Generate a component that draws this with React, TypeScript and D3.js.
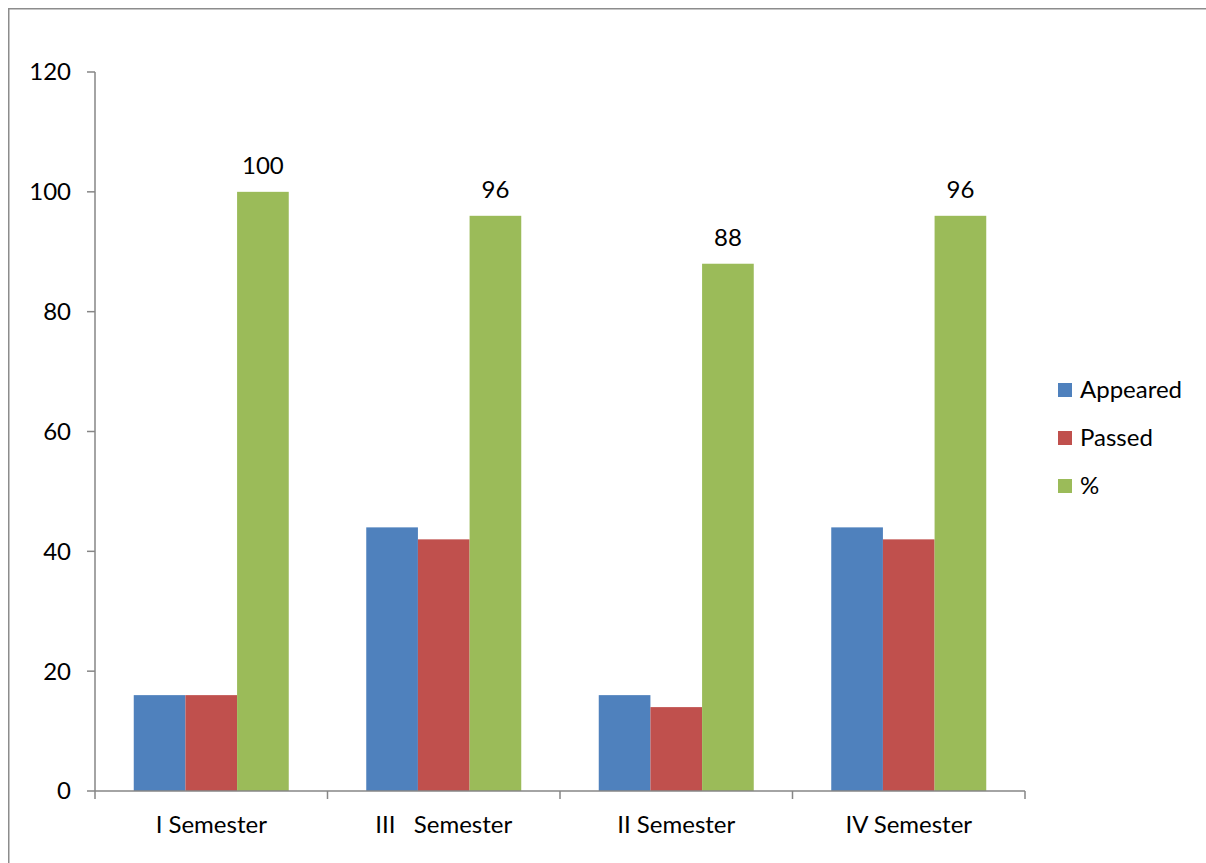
import React from "react";
import * as d3 from "d3";

const categories = ["I Semester", "III   Semester", "II Semester", "IV Semester"];
const seriesNames = ["Appeared", "Passed", "%"];
const appeared = [16, 44, 16, 44];
const passed = [16, 42, 14, 42];
const percent = [100, 96, 88, 96];
const yTicks = [0, 20, 40, 60, 80, 100, 120];
const colors = ["#4F81BD", "#C0504D", "#9BBB59"];

export default function App() {
  const W = 1198;
  const H = 855;
  const left = 87;
  const right = 1017;
  const top = 64;
  const bottom = 783;
  const font = "Lato, 'Open Sans', sans-serif";
  const fs = 24;
  const series = [appeared, passed, percent];

  const x = d3.scaleBand<string>().domain(categories).range([left, right]).paddingInner(0).paddingOuter(0);
  const y = d3.scaleLinear().domain([0, 120]).range([bottom, top]);
  const bw = x.bandwidth() / 4.5;
  const gap = bw * 0.75;

  const axisColor = "#868686";

  return (
    <svg width={W} height={H} style={{ display: "block", position: "fixed", left: 8, top: 8 }}>
      <rect x={0.75} y={0.75} width={W + 20} height={H + 20} fill="white" stroke="#8c8c8c" strokeWidth={1.5} />
      {/* y axis */}
      <line x1={left} x2={left} y1={top} y2={bottom} stroke={axisColor} strokeWidth={1.5} />
      {yTicks.map((t) => (
        <g key={t}>
          <line x1={left - 8} x2={left} y1={y(t)} y2={y(t)} stroke={axisColor} strokeWidth={1.5} />
          <text x={left - 24} y={y(t)} dy="0.35em" textAnchor="end" fontFamily={font} fontSize={fs} fill="#000">
            {t}
          </text>
        </g>
      ))}
      {/* bars */}
      {categories.map((c, i) => (
        <g key={c}>
          {series.map((s, j) => {
            const bx = (x(c) as number) + gap + j * bw;
            return (
              <rect key={j} x={bx} y={y(s[i])} width={bw} height={bottom - y(s[i])} fill={colors[j]} />
            );
          })}
          <text
            x={(x(c) as number) + gap + 2.5 * bw}
            y={y(percent[i]) - 26}
            dy="0.35em"
            textAnchor="middle"
            fontFamily={font}
            fontSize={fs}
            fill="#000"
          >
            {percent[i]}
          </text>
          <text
            x={(x(c) as number) + x.bandwidth() / 2}
            y={bottom + 34}
            dy="0.35em"
            textAnchor="middle"
            fontFamily={font}
            fontSize={fs}
            fill="#000"
            style={{ whiteSpace: "pre" }}
          >
            {c}
          </text>
        </g>
      ))}
      {/* x axis */}
      <line x1={left} x2={right} y1={bottom} y2={bottom} stroke={axisColor} strokeWidth={1.5} />
      {[...categories.map((c) => x(c) as number), right].map((tx, i) => (
        <line key={i} x1={tx} x2={tx} y1={bottom} y2={bottom + 8} stroke={axisColor} strokeWidth={1.5} />
      ))}
      {/* legend */}
      {seriesNames.map((n, j) => (
        <g key={n} transform={`translate(1050, ${382 + j * 48})`}>
          <rect x={0} y={-7} width={14} height={14} fill={colors[j]} />
          <text x={22} y={0} dy="0.35em" fontFamily={font} fontSize={fs} fill="#000">
            {n}
          </text>
        </g>
      ))}
    </svg>
  );
}
